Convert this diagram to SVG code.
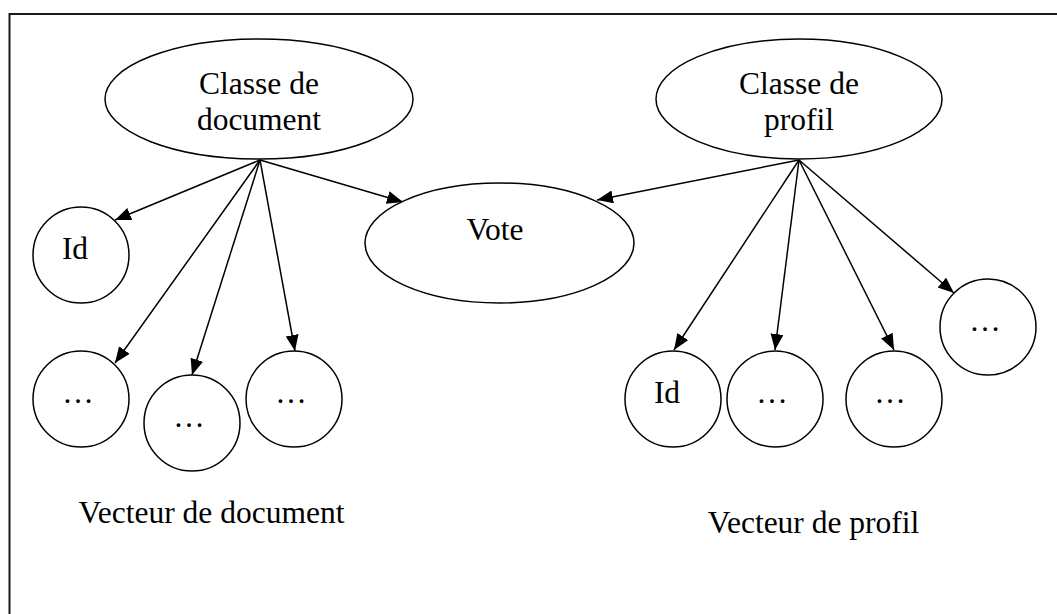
<svg xmlns="http://www.w3.org/2000/svg" width="1057" height="614" viewBox="0 0 1057 614">
<style>
.n{fill:#fff;stroke:#000;stroke-width:1.5}
.t{font-family:"Liberation Serif","Times New Roman",serif;font-size:31.5px;fill:#000;text-anchor:middle}
.e{fill:none;stroke:#000;stroke-width:1.5;marker-end:url(#ah)}
</style>
<defs>
<marker id="ah" markerUnits="userSpaceOnUse" markerWidth="18" markerHeight="14" refX="16" refY="6.5" orient="auto">
<path d="M0,0 L16,6.5 L0,13 Z" fill="#000"/>
</marker>
</defs>
<rect width="1057" height="614" fill="#fff"/>
<path d="M9.5,614 V14 H1057" fill="none" stroke="#1a1a1a" stroke-width="2"/>
<g id="connectors">
<line class="e" x1="260" y1="160" x2="115" y2="220"/>
<line class="e" x1="260" y1="160" x2="403" y2="202"/>
<line class="e" x1="260" y1="160" x2="115" y2="363"/>
<line class="e" x1="260" y1="160" x2="192" y2="375"/>
<line class="e" x1="260" y1="160" x2="295" y2="351"/>
<line class="e" x1="799" y1="160" x2="597" y2="200"/>
<line class="e" x1="799" y1="160" x2="674" y2="350"/>
<line class="e" x1="799" y1="160" x2="775" y2="350"/>
<line class="e" x1="799" y1="160" x2="894" y2="350"/>
<line class="e" x1="799" y1="160" x2="954" y2="293"/>
</g>
<g id="classe-document">
<ellipse class="n" cx="259" cy="99" rx="154" ry="60"/>
<text class="t" x="259" y="94">Classe de</text>
<text class="t" x="259" y="130">document</text>
</g>
<g id="classe-profil">
<ellipse class="n" cx="799" cy="99" rx="143" ry="60"/>
<text class="t" x="799" y="94">Classe de</text>
<text class="t" x="799" y="130">profil</text>
</g>
<g id="vote">
<ellipse class="n" cx="499.5" cy="243" rx="134.5" ry="60"/>
<text class="t" x="495" y="240">Vote</text>
</g>
<g id="doc-id">
<circle class="n" cx="81" cy="255" r="48"/>
<text class="t" x="75" y="259">Id</text>
</g>
<g id="doc-1">
<circle class="n" cx="81" cy="399" r="48"/>
<text class="t" x="78" y="403">…</text>
</g>
<g id="doc-2">
<circle class="n" cx="192" cy="423" r="48"/>
<text class="t" x="189" y="427">…</text>
</g>
<g id="doc-3">
<circle class="n" cx="294" cy="399" r="48"/>
<text class="t" x="291" y="403">…</text>
</g>
<g id="prof-id">
<circle class="n" cx="673" cy="399" r="48"/>
<text class="t" x="667" y="403">Id</text>
</g>
<g id="prof-1">
<circle class="n" cx="775" cy="399" r="48"/>
<text class="t" x="772" y="403">…</text>
</g>
<g id="prof-2">
<circle class="n" cx="894" cy="399" r="48"/>
<text class="t" x="890" y="403">…</text>
</g>
<g id="prof-3">
<circle class="n" cx="988" cy="327" r="48"/>
<text class="t" x="985" y="331">…</text>
</g>
<g id="label-document">
<text class="t" x="211.5" y="523">Vecteur de document</text>
</g>
<g id="label-profil">
<text class="t" x="813.5" y="533">Vecteur de profil</text>
</g>
</svg>
